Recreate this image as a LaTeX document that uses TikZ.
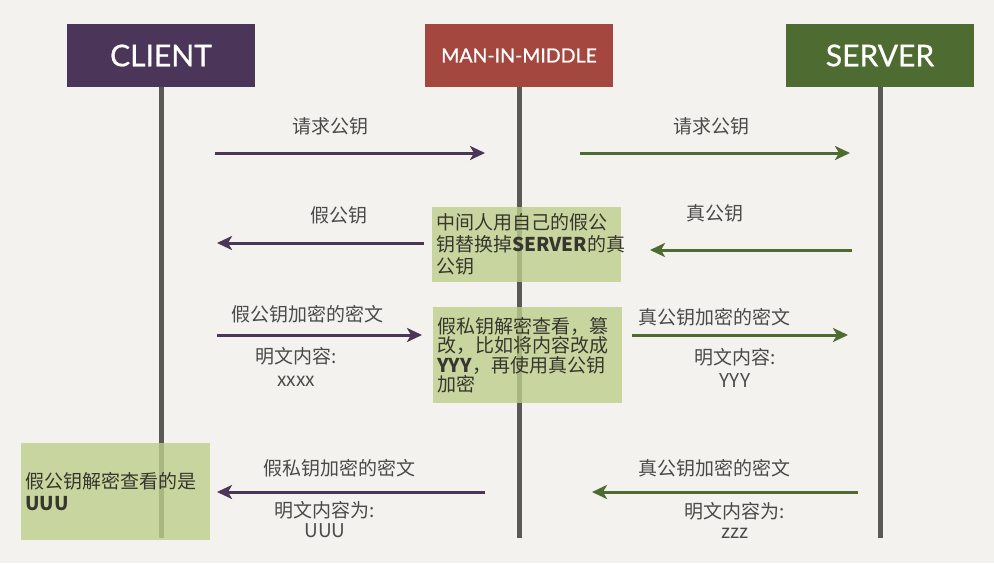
\documentclass[tikz,border=0pt]{standalone}
\usepackage{fontspec}
\setmainfont{Noto Sans CJK SC}
\newfontfamily\headfont[FakeBold=0.8]{Lato}
\usetikzlibrary{arrows.meta, positioning}
\definecolor{paper}{HTML}{F3F2EF}
\definecolor{clientpurple}{HTML}{4B3558}
\definecolor{mitmred}{HTML}{A3473F}
\definecolor{servergreen}{HTML}{4E6B31}
\definecolor{notegreen}{HTML}{BFCE8A}
\definecolor{lifegray}{HTML}{5A5956}
\definecolor{textgray}{HTML}{4A4A48}
\definecolor{textdark}{HTML}{36362F}

\begin{document}
\begin{tikzpicture}[
  x=1pt, y=-1pt,
  head/.style={minimum width=188pt, minimum height=63pt, inner sep=0pt,
    text=white, font=\headfont\fontsize{30}{36}\selectfont},
  life/.style={line width=5pt, lifegray},
  msg/.style={-{Stealth[length=15pt, width=14pt, inset=4pt]}, line width=3pt},
  lbl/.style={text=textgray, font=\fontsize{19}{23}\selectfont, inner sep=0pt},
  note/.style={fill=notegreen, fill opacity=0.8, text opacity=1, text=textdark,
    anchor=north west, text width=181pt, inner xsep=4pt, inner ysep=0pt,
    minimum width=189pt, align=left, font=\fontsize{19}{22}\selectfont}
]
  \fill[paper] (0,0) rectangle (994,563);
  \useasboundingbox (0,0) rectangle (994,563);

  % Headers
  \node[head, fill=clientpurple] (client) at (161,55.5) {CLIENT};
  \node[head, fill=mitmred, font=\headfont\fontsize{19.5}{24}\selectfont]
    (mitm) at (519,55.5) {MAN-IN-MIDDLE};
  \node[head, fill=servergreen] (server) at (880,55.5) {SERVER};

  % Lifelines
  \foreach \n in {client, mitm, server} {
    \coordinate (\n end) at ([yshift=-451pt]\n.south);
    \draw[life] (\n.south) -- (\n end);
  }

  % Notes of the man in the middle and the client
  \node[note, minimum height=75pt] (swap) at (432,207)
    {中间人用自己的假公\\钥替换掉\textbf{SERVER}的真\\公钥};
  \node[note, minimum height=96pt, font=\fontsize{19}{19.5}\selectfont]
    (tamper) at (433,307)
    {假私钥解密查看，篡\\改，比如将内容改成\\\textbf{YYY}，再使用真公钥\\加密};
  \node[note, minimum height=97pt, minimum width=187pt] (peek) at (21,443)
    {假公钥解密查看的是\\\textbf{UUU}};

  % Arrow ends
  \coordinate (req1s) at (215,153);  \coordinate (req1e) at (485,153);
  \coordinate (req2s) at (580,153);  \coordinate (req2e) at (850,153);
  \coordinate (fakes) at (424,243);  \coordinate (fakee) at (217,243);
  \coordinate (reals) at (852,250);  \coordinate (reale) at (650,250);
  \coordinate (enc1s) at (217,335);  \coordinate (enc1e) at (422,335);
  \coordinate (enc2s) at (632,335);  \coordinate (enc2e) at (848,335);
  \coordinate (back1s) at (485,492); \coordinate (back1e) at (217,492);
  \coordinate (back2s) at (858,492); \coordinate (back2e) at (592,492);

  % Messages
  \draw[msg, clientpurple] (req1s) -- (req1e);
  \draw[msg, servergreen] (req2s) -- (req2e);
  \draw[msg, clientpurple] (fakes) -- (fakee);
  \draw[msg, servergreen] (reals) -- (reale);
  \draw[msg, clientpurple] (enc1s) -- (enc1e);
  \draw[msg, servergreen] (enc2s) -- (enc2e);
  \draw[msg, clientpurple] (back1s) -- (back1e);
  \draw[msg, servergreen] (back2s) -- (back2e);

  % Labels
  \node[lbl] (req1) at (330,126) {请求公钥};
  \node[lbl] (req2) at (711,126) {请求公钥};
  \node[lbl] (fake) at (339,215) {假公钥};
  \node[lbl] (real) at (715,213) {真公钥};
  \node[lbl] (enc1) at (307,314) {假公钥加密的密文};
  \node[lbl] (enc2) at (714,317) {真公钥加密的密文};
  \node[lbl] (back1) at (339,468) {假私钥加密的密文};
  \node[lbl] (back2) at (714,468) {真公钥加密的密文};

  % Plain texts
  \node[lbl, align=center] (plain1) at (296,367) {明文内容:\\xxxx};
  \node[lbl, align=center] (plain2) at (735,367.5) {明文内容:\\YYY};
  \node[lbl, align=center, font=\fontsize{19}{20}\selectfont]
    (plain3) at (325,520) {明文内容为:\\UUU};
  \node[lbl, align=center, font=\fontsize{19}{20}\selectfont]
    (plain4) at (735,520) {明文内容为:\\zzz};
\end{tikzpicture}
\end{document}
